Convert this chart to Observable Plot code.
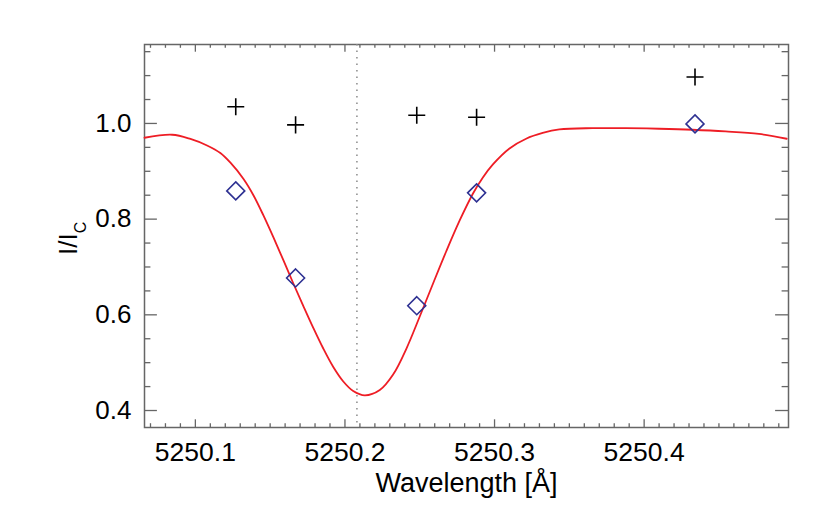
<!DOCTYPE html>
<html>
<head>
<meta charset="utf-8">
<script src="https://cdn.jsdelivr.net/npm/d3@7"></script>
<script src="https://cdn.jsdelivr.net/npm/@observablehq/plot@0.6"></script>
<style>
  html, body { margin: 0; padding: 0; background: white; }
</style>
</head>
<body>
<div id="chart"></div>
<script>
// ---- data ----
const curveWl = [5250.0660, 5250.0845, 5250.0967, 5250.1078, 5250.1167, 5250.1233, 5250.1322, 5250.1389,
  5250.1455, 5250.1522, 5250.1589, 5250.1655, 5250.1722, 5250.1789, 5250.1855, 5250.1922, 5250.1989,
  5250.2055, 5250.2133, 5250.2233, 5250.2322, 5250.2411, 5250.2500, 5250.2589, 5250.2678, 5250.2767,
  5250.2855, 5250.2922, 5250.2989, 5250.3100, 5250.3211, 5250.3322, 5250.3433, 5250.3655, 5250.3878,
  5250.4100, 5250.4322, 5250.4545, 5250.4767, 5250.4953];
const curveI = [0.9701, 0.9764, 0.9676, 0.9540, 0.9383, 0.9185, 0.8840, 0.8495,
  0.8077, 0.7617, 0.7136, 0.6655, 0.6184, 0.5724, 0.5296, 0.4909, 0.4606,
  0.4407, 0.4317, 0.4428, 0.4752, 0.5296, 0.5965, 0.6655, 0.7334, 0.7972,
  0.8530, 0.8871, 0.9143, 0.9477, 0.9680, 0.9801, 0.9875, 0.9902, 0.9902,
  0.9889, 0.9868, 0.9833, 0.9780, 0.9680];

const pointWl = [5250.127, 5250.167, 5250.248, 5250.288, 5250.434];
const plusI = [1.035, 0.997, 1.017, 1.013, 1.097];
const diamondI = [0.859, 0.677, 0.619, 0.855, 0.999];

const restWl = [5250.208];

const xMajor = [5250.1, 5250.2, 5250.3, 5250.4];
const yMajor = [0.4, 0.6, 0.8, 1.0];
const xLabel = "Wavelength [Å]";
const yLabelMain = "I/I";
const yLabelSub = "C";

// ---- layout ----
const W = 830, H = 519, mL = 144, mR = 42, mT = 44, mB = 92;
const iw = W - mL - mR, ih = H - mT - mB;
const xMinor = d3.range(7, 50).map(i => 5250 + i / 100).filter(v => !xMajor.some(m => Math.abs(m - v) < 1e-6));
const yMinor = d3.range(8, 24).map(i => i * 0.05).filter(v => !yMajor.some(m => Math.abs(m - v) < 1e-6));

const curve = curveWl.map((x, i) => ({x, y: curveI[i]}));
const plus = pointWl.map((x, i) => ({x, y: plusI[i]}));
const diam = pointWl.map((x, i) => ({x, y: diamondI[i]}));

const axisColor = "#666";
const font = "'Liberation Sans', Arial, sans-serif";
const chart = Plot.plot({
  width: W, height: H,
  marginLeft: mL, marginRight: mR, marginTop: mT, marginBottom: mB,
  style: {fontFamily: font, fontSize: "26px", background: "white", color: "black"},
  x: {domain: [5250.066, 5250.4965]},
  y: {domain: [0.3645, 1.165]},
  marks: [
    // ticks, inward on all four sides
    Plot.tickX(xMajor, {x: d => d, insetTop: ih - 7.7, stroke: axisColor, strokeWidth: 1.3}),
    Plot.tickX(xMajor, {x: d => d, insetBottom: ih - 7.7, stroke: axisColor, strokeWidth: 1.3}),
    Plot.tickX(xMinor, {x: d => d, insetTop: ih - 3.8, stroke: axisColor, strokeWidth: 1.3}),
    Plot.tickX(xMinor, {x: d => d, insetBottom: ih - 3.8, stroke: axisColor, strokeWidth: 1.3}),
    Plot.tickY(yMajor, {y: d => d, insetRight: iw - 12.9, stroke: axisColor, strokeWidth: 1.3}),
    Plot.tickY(yMajor, {y: d => d, insetLeft: iw - 12.9, stroke: axisColor, strokeWidth: 1.3}),
    Plot.tickY(yMinor, {y: d => d, insetRight: iw - 6.4, stroke: axisColor, strokeWidth: 1.3}),
    Plot.tickY(yMinor, {y: d => d, insetLeft: iw - 6.4, stroke: axisColor, strokeWidth: 1.3}),
    Plot.frame({stroke: axisColor, strokeWidth: 1.5}),
    Plot.axisX({ticks: xMajor, tickSize: 0, tickPadding: 14.6, tickFormat: d => d.toFixed(1), label: null, fontSize: 26.5}),
    Plot.axisY({ticks: yMajor, tickSize: 0, tickPadding: 13, tickFormat: d => d.toFixed(1), label: null, fontSize: 26}),
    Plot.text([xLabel], {frameAnchor: "bottom", dy: 64, lineAnchor: "bottom", text: d => d, fontSize: 27, fill: "black"}),
    Plot.ruleX(restWl, {x: d => d, stroke: "#8a8a8a", strokeWidth: 1.5, strokeDasharray: "1.5,5"}),
    Plot.line(curve, {x: "x", y: "y", stroke: "#ee1d25", strokeWidth: 1.8, curve: "catmull-rom"}),
    Plot.dot(plus, {x: "x", y: "y", symbol: "plus", r: 5.54, stroke: "black", strokeWidth: 1.6}),
    Plot.dot(diam, {x: "x", y: "y", symbol: "diamond2", r: 8.1, stroke: "#2e3192", strokeWidth: 1.6, fill: "none"})
  ]
});

// y-axis label with subscript
const lab = d3.select(chart).append("text")
  .attr("transform", "translate(77,255) rotate(-90)")
  .attr("text-anchor", "start")
  .attr("font-family", font)
  .attr("font-size", 26)
  .attr("fill", "black");
lab.append("tspan").text(yLabelMain);
lab.append("tspan").attr("font-size", 16).attr("dy", 9).text(yLabelSub);

document.getElementById("chart").appendChild(chart);
</script>
</body>
</html>
